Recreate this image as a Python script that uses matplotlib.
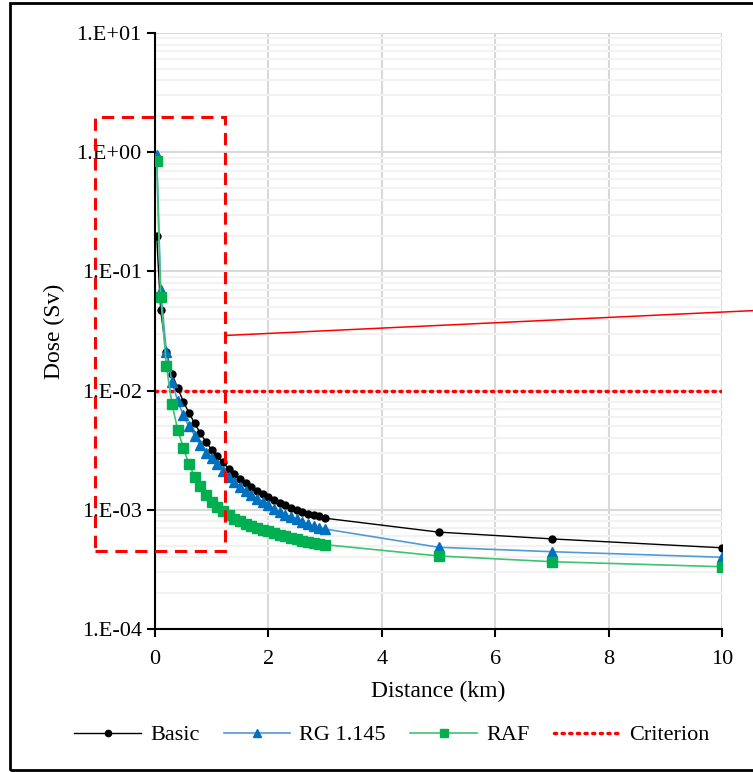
import math
import matplotlib.pyplot as plt
from matplotlib.patches import Rectangle
from matplotlib.lines import Line2D
from matplotlib.ticker import FixedLocator, FuncFormatter, LogLocator, NullFormatter

# ---------------- data ----------------
distance = [0.03, 0.1, 0.2, 0.3, 0.4, 0.5, 0.6, 0.7, 0.8, 0.9, 1.0,
            1.1, 1.2, 1.3, 1.4, 1.5, 1.6, 1.7, 1.8, 1.9, 2.0,
            2.1, 2.2, 2.3, 2.4, 2.5, 2.6, 2.7, 2.8, 2.9, 3.0,
            5.0, 7.0, 10.0]

dose_basic = [0.2, 0.047, 0.021, 0.0138, 0.0105, 0.0081, 0.0065, 0.0053, 0.0044, 0.0037, 0.0032,
              0.0028, 0.0025, 0.0022, 0.0020, 0.0018, 0.00167, 0.00155, 0.00145, 0.00136, 0.00128,
              0.00121, 0.00115, 0.00109, 0.00104, 0.00100, 0.00096, 0.00093, 0.00090, 0.00088, 0.00085,
              6.5e-4, 5.7e-4, 4.8e-4]

dose_rg = [0.95, 0.07, 0.021, 0.0118, 0.0082, 0.0062, 0.0050, 0.0042, 0.0035, 0.0030, 0.0027,
           0.0024, 0.0021, 0.0019, 0.0017, 0.00155, 0.00143, 0.00133, 0.00124, 0.00116, 0.00109,
           0.00102, 0.00096, 0.00091, 0.00087, 0.00083, 0.00079, 0.00076, 0.00073, 0.00071, 0.00069,
           4.85e-4, 4.45e-4, 4.0e-4]

dose_raf = [0.84, 0.061, 0.0162, 0.0077, 0.0047, 0.0033, 0.0024, 0.0019, 0.00157, 0.00133, 0.00117,
            0.00106, 0.00097, 0.00090, 0.00084, 0.00080, 0.00076, 0.00073, 0.00070, 0.00068, 0.00066,
            0.00064, 0.00062, 0.00060, 0.00058, 0.00057, 0.00055, 0.00054, 0.00053, 0.00052, 0.00051,
            4.1e-4, 3.67e-4, 3.33e-4]

criterion = 1e-2

# zoom box and its pointer line (data coords)
box_x = [-1.06, 1.235]
box_y = [4.5e-4, 1.97]
pointer_x = [1.235, 10.6]
pointer_y = [0.029, 0.047]

# ---------------- figure ----------------
plt.rcParams['font.family'] = ['Liberation Serif', 'DejaVu Serif']

fig = plt.figure(figsize=(7.53, 7.72), dpi=100)
ax = fig.add_axes([155 / 753, 1 - 629 / 772, (722 - 155) / 753, (629 - 33) / 772])

ax.plot(distance, dose_basic, color="black", lw=1.0, marker="o", ms=5,
        mfc="black", mec="black", label="Basic", zorder=3)
ax.plot(distance, dose_rg, color="#4F9BD9", lw=1.2, marker="^", ms=7,
        mfc="#0070C0", mec="#0070C0", label="RG 1.145", zorder=4)
ax.plot(distance, dose_raf, color="#3DC46F", lw=1.2, marker="s", ms=7,
        mfc="#00B050", mec="#00B050", label="RAF", zorder=5)
ax.plot([0, 10], [criterion, criterion], color="red", lw=2.5, ls=(0, (0.6, 1.6)),
        dash_capstyle="round", label="Criterion", zorder=2)

ax.set_yscale("log")
ax.set_xlim(0, 10)
ax.set_ylim(1e-4, 1e1)

ax.xaxis.set_major_locator(FixedLocator([0, 2, 4, 6, 8, 10]))
ax.yaxis.set_major_locator(LogLocator(base=10, numticks=10))
ax.yaxis.set_minor_locator(LogLocator(base=10, subs=range(2, 10), numticks=20))
ax.yaxis.set_minor_formatter(NullFormatter())
ax.yaxis.set_major_formatter(FuncFormatter(lambda v, p: "1.E{:+03d}".format(int(round(math.log10(v))))))

ax.grid(True, which="major", color="#D9D9D9", lw=1.5, zorder=0)
ax.grid(True, which="minor", axis="y", color="#F2F2F2", lw=1.5, zorder=0)
ax.set_axisbelow(True)

ax.spines["top"].set_visible(False)
ax.spines["right"].set_visible(False)
ax.spines["left"].set_linewidth(1.5)
ax.spines["bottom"].set_linewidth(1.5)

ax.tick_params(axis="both", which="major", direction="out", length=6, width=1.5,
               labelsize=16, colors="black")
ax.tick_params(axis="y", which="minor", length=0)
ax.tick_params(axis="x", pad=9)

ax.set_xlabel("Distance (km)", fontsize=17, labelpad=9)
ax.set_ylabel("Dose (Sv)", fontsize=17, labelpad=8)

# dashed zoom box
rect = Rectangle((box_x[0], box_y[0]), box_x[1] - box_x[0], box_y[1] - box_y[0],
                 fill=False, ec="red", lw=2.2, ls=(0, (4, 2.5)), clip_on=False, zorder=6)
ax.add_patch(rect)
ax.plot(pointer_x, pointer_y, color="red", lw=1.1, clip_on=False, zorder=6)

# legend
handles = [
    Line2D([], [], color="black", lw=1.0, marker="o", ms=4.5),
    Line2D([], [], color="#4F9BD9", lw=1.2, marker="^", ms=6, mfc="#0070C0", mec="#0070C0"),
    Line2D([], [], color="#3DC46F", lw=1.2, marker="s", ms=6, mfc="#00B050", mec="#00B050"),
    Line2D([], [], color="red", lw=2.5, ls=(0, (0.6, 1.6)), dash_capstyle="round"),
]
fig.legend(handles, ["Basic", "RG 1.145", "RAF", "Criterion"], loc="center",
           bbox_to_anchor=(392 / 753, 1 - 735 / 772), ncol=4, frameon=False,
           fontsize=16, handlelength=3.0, columnspacing=1.1, handletextpad=0.4)

# outer frame of the figure
frame = Rectangle((10 / 753, 2 / 772), 1.2, 1 - 5 / 772, transform=fig.transFigure,
                  fill=False, ec="black", lw=2, clip_on=False)
fig.patches.append(frame)

fig.savefig("out.png", dpi=100)
